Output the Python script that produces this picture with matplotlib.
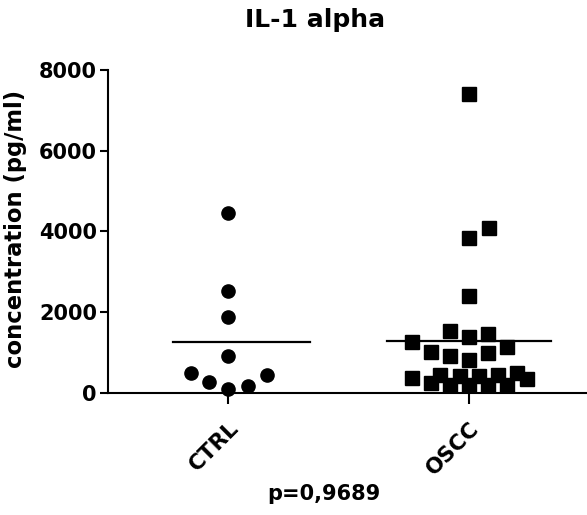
import matplotlib
matplotlib.use("Agg")
import matplotlib.pyplot as plt
import numpy as np

plt.rcParams['font.family'] = ['DejaVu Sans']
plt.rcParams['font.weight'] = 'bold'

groups = ['CTRL', 'OSCC']

# CTRL values (pg/ml) and horizontal scatter offsets
ctrl_vals = [4470, 2530, 1870, 920, 490, 280, 90, 160, 450]
ctrl_jit = [0.0, 0.0, 0.0, 0.0, -0.157, -0.079, 0.0, 0.08, 0.16]

# OSCC values (pg/ml) and horizontal scatter offsets
oscc_vals = [7400, 4080, 3830, 2390,
             1270, 1535, 1380, 1460, 1020, 915, 815, 985, 1150,
             365, 240, 445, 200, 420, 200, 420, 200, 445, 200, 490, 340]
oscc_jit = [0.0, 0.082, 0.0, 0.0,
            -0.237, -0.08, 0.0, 0.078, -0.16, -0.08, 0.0, 0.078, 0.159,
            -0.237, -0.16, -0.119, -0.08, -0.038, 0.0, 0.041, 0.078, 0.12, 0.159, 0.2, 0.242]

yticks = [0, 2000, 4000, 6000, 8000]

fig = plt.figure(figsize=(5.87, 5.15), dpi=100)
ax = fig.add_axes([0.184, 0.237, 0.82, 0.627])

ax.plot(1 + np.array(ctrl_jit), ctrl_vals, 'o', color='black', markersize=9.5, clip_on=False)
ax.plot(2 + np.array(oscc_jit), oscc_vals, 's', color='black', markersize=9.5, clip_on=False)

# mean lines
ax.plot([1 - 0.23, 1 + 0.34], [np.mean(ctrl_vals)] * 2, color='black', lw=1.6)
ax.plot([2 - 0.34, 2 + 0.34], [np.mean(oscc_vals)] * 2, color='black', lw=1.6)

ax.set_xlim(0.5, 2.5)
ax.set_ylim(0, 8000)
ax.set_yticks(yticks)
ax.set_yticklabels([str(t) for t in yticks], fontsize=15, fontweight='bold')
ax.set_xticks([1, 2])
ax.set_xticklabels(groups, rotation=45, ha='right', rotation_mode='anchor',
                   fontsize=15.5, fontweight='bold')

for s in ['top', 'right']:
    ax.spines[s].set_visible(False)
for s in ['left', 'bottom']:
    ax.spines[s].set_linewidth(1.5)
ax.tick_params(axis='both', width=1.5, length=6, pad=2)
ax.tick_params(axis='x', length=8, pad=10)

fig.text(0.026, 0.555, 'concentration (pg/ml)', fontsize=16.3, fontweight='bold',
         rotation=90, ha='center', va='center')
fig.text(0.537, 0.962, 'IL-1 alpha', fontsize=18, fontweight='bold', ha='center', va='center')
fig.text(0.552, 0.04, 'p=0,9689', fontsize=15, fontweight='bold', ha='center', va='center')

fig.savefig('out.png', dpi=100)
